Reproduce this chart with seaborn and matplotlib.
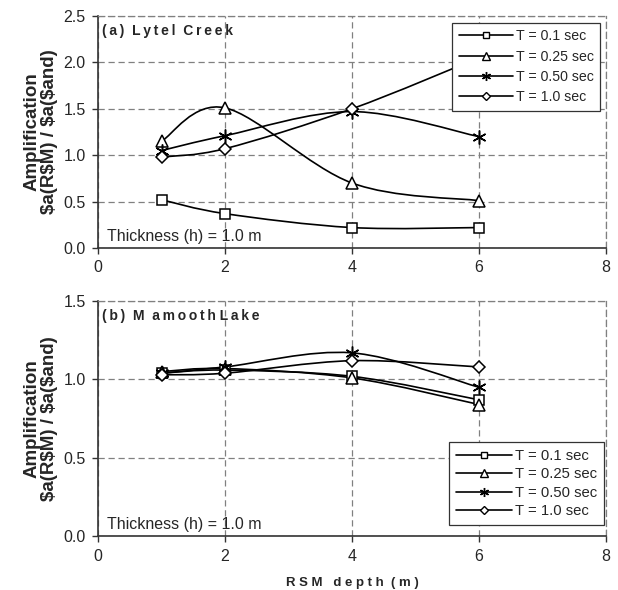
import numpy as np
import pandas as pd
import seaborn as sns
import matplotlib.pyplot as plt
from matplotlib.path import Path
from matplotlib.patches import PathPatch
from matplotlib.lines import Line2D

depth = [1, 2, 4, 6]
periods = ['T = 0.1 sec', 'T = 0.25 sec', 'T = 0.50 sec', 'T = 1.0 sec']

# (a) Lytel Creek
lytel_t010 = [0.52, 0.37, 0.22, 0.22]
lytel_t025 = [1.15, 1.51, 0.70, 0.51]
lytel_t050 = [1.05, 1.21, 1.47, 1.20]
lytel_t100 = [0.98, 1.07, 1.50, 2.05]

# (b) Mamooth Lake
mam_t010 = [1.04, 1.06, 1.02, 0.87]
mam_t025 = [1.05, 1.07, 1.01, 0.84]
mam_t050 = [1.04, 1.08, 1.17, 0.95]
mam_t100 = [1.03, 1.04, 1.12, 1.08]

markers = ['s', '^', (6, 2, 0), 'D']
marker_sizes = [7.5, 8, 10, 6]

TS = '\u2009'  # thin space, for the spread-out bold titles


def spaced(s):
    return TS.join(s)


def smooth_path(xs, ys):
    # excel-like smoothed line: bezier segments, catmull-rom control points
    pts = np.column_stack([xs, ys]).astype(float)
    verts = [pts[0]]
    codes = [Path.MOVETO]
    n = len(pts)
    for i in range(n - 1):
        p0 = pts[i - 1] if i > 0 else pts[i]
        p1 = pts[i]
        p2 = pts[i + 1]
        p3 = pts[i + 2] if i + 2 < n else pts[i + 1]
        verts += [p1 + (p2 - p0) / 6, p2 - (p3 - p1) / 6, p2]
        codes += [Path.CURVE4] * 3
    return Path(verts, codes)


def draw_panel(ax, series, ymax, title, legend_anchor, legend_loc, leg_font, spacing):
    df = pd.DataFrame({
        'depth': depth * len(series),
        'amp': np.concatenate(series),
        'T': np.repeat(periods, len(depth)),
    })
    for vals in series:
        ax.add_patch(PathPatch(smooth_path(depth, vals), fill=False,
                               edgecolor='black', linewidth=1.2, zorder=3))
    for lab, m, ms in zip(periods, markers, marker_sizes):
        sub = df[df['T'] == lab]
        sns.lineplot(data=sub, x='depth', y='amp', marker=m, markersize=ms,
                     linewidth=0, color='black', markerfacecolor='white',
                     markeredgecolor='black', markeredgewidth=1.1,
                     errorbar=None, legend=False, ax=ax, zorder=4)

    ax.set_xlim(0, 8)
    ax.set_ylim(0, ymax)
    ax.set_xticks([0, 2, 4, 6, 8])
    ax.set_yticks(np.arange(0, ymax + 0.01, 0.5))
    ax.yaxis.set_major_formatter(plt.FormatStrFormatter('%.1f'))
    ax.grid(True, color='#808080', linestyle=(0, (5, 3)), linewidth=0.9)
    for s in ['top', 'right']:
        ax.spines[s].set_linestyle((0, (5, 3)))
        ax.spines[s].set_color('#808080')
        ax.spines[s].set_linewidth(0.9)
    for s in ['left', 'bottom']:
        ax.spines[s].set_color('#333333')
        ax.spines[s].set_linewidth(1.2)
    ax.tick_params(direction='out', length=4, width=1, color='#333333',
                   labelsize=11.5, pad=5, left=True, bottom=True)
    ax.set_xlabel('')
    ax.set_ylabel('Amplification\n\\$a(R\\$M) / \\$a(\\$and)', fontsize=13.5,
                  fontweight='bold', linespacing=1.05, labelpad=4)
    ax.text(0.008, 0.965, title, transform=ax.transAxes, fontsize=10,
            fontweight='bold', va='top', ha='left')
    ax.text(0.018, 0.05, 'Thickness (h) = 1.0 m', transform=ax.transAxes,
            fontsize=11.5, va='center', ha='left')

    handles = [Line2D([0], [0], color='black', linewidth=1.2, marker=m,
                      markersize=ms * 0.65, markerfacecolor='white',
                      markeredgecolor='black')
               for m, ms in zip(markers, marker_sizes)]
    leg = ax.legend(handles, periods, loc=legend_loc, bbox_to_anchor=legend_anchor,
                    borderaxespad=0, fontsize=leg_font, frameon=True, fancybox=False,
                    framealpha=1, edgecolor='#333333', handlelength=3.8,
                    handletextpad=0.2, labelspacing=spacing, borderpad=0.45)
    leg.get_frame().set_linewidth(0.9)
    leg.set_zorder(10)


def main():
    sns.set_style('white')
    plt.rcParams['font.family'] = ['Liberation Sans', 'DejaVu Sans']

    fig = plt.figure(figsize=(6.18, 5.9), dpi=100)
    ax_a = fig.add_axes([0.1586, 0.5797, 0.822, 0.3932])
    ax_b = fig.add_axes([0.1586, 0.0915, 0.822, 0.398])

    draw_panel(ax_a, [lytel_t010, lytel_t025, lytel_t050, lytel_t100],
               2.5, spaced('(a)') + '  ' + spaced('Lytel') + '  ' + spaced('Creek'),
               (0.988, 0.97), 'upper right', 10.2, 0.45)
    draw_panel(ax_b, [mam_t010, mam_t025, mam_t050, mam_t100],
               1.5, spaced('(b)') + '  M  ' + spaced('amooth') + ' ' + spaced('Lake'),
               (0.996, 0.047), 'lower right', 10.7, 0.3)

    ax_b.set_xlabel('R S M   d e p t h  ( m )', fontsize=9.5, fontweight='bold',
                    labelpad=10)

    fig.savefig('out.png', dpi=100)


if __name__ == "__main__":
    main()
